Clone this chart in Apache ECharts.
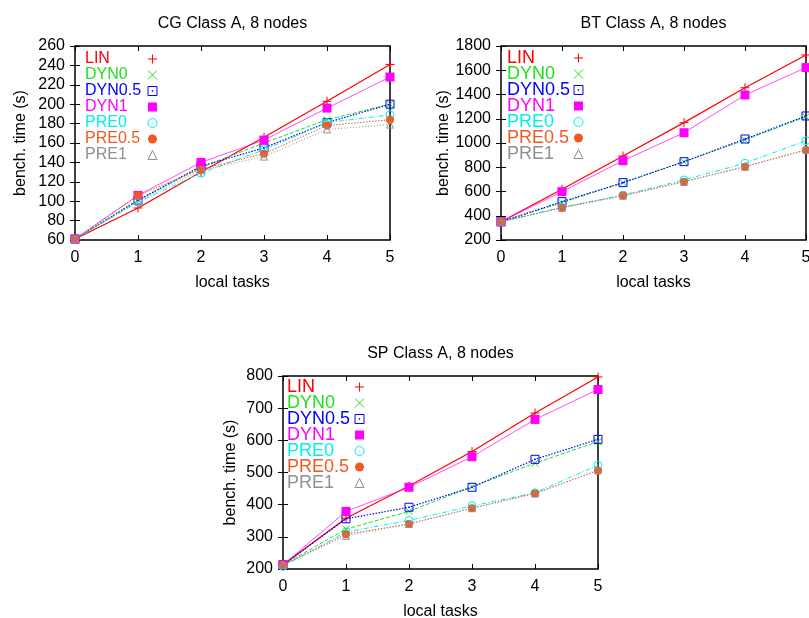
<!DOCTYPE html>
<html>
<head>
<meta charset="utf-8">
<script src="https://cdn.jsdelivr.net/npm/echarts@6/dist/echarts.min.js"></script>
<style>
html,body{margin:0;padding:0;background:#fff;}
#c{width:809px;height:618px;}
</style>
</head>
<body>
<div id="c"></div>
<script>
// ---------- data ----------
const localTasks = [0, 1, 2, 3, 4, 5];
const seriesNames = ['LIN', 'DYN0', 'DYN0.5', 'DYN1', 'PRE0', 'PRE0.5', 'PRE1'];

const cgTitle = 'CG Class A, 8 nodes';
const cgLIN   = [61, 93, 130, 166, 203, 241];
const cgDYN0  = [61, 101, 135, 160, 184, 200];
const cgDYN05 = [61, 101, 136, 155, 181, 200];
const cgDYN1  = [61, 106, 140, 163, 196, 228];
const cgPRE0  = [61, 99, 129, 153, 181, 189];
const cgPRE05 = [61, 106, 133, 149, 178, 184];
const cgPRE1  = [61, 100, 132, 146, 174, 179];

const btTitle = 'BT Class A, 8 nodes';
const btLIN   = [350, 618, 893, 1168, 1456, 1726];
const btDYN0  = [350, 508, 673, 846, 1025, 1217];
const btDYN05 = [350, 516, 673, 846, 1033, 1223];
const btDYN1  = [350, 599, 854, 1085, 1396, 1622];
const btPRE0  = [350, 470, 571, 695, 833, 1019];
const btPRE05 = [350, 467, 566, 681, 805, 942];
const btPRE1  = [350, 465, 565, 680, 805, 945];

const spTitle = 'SP Class A, 8 nodes';
const spLIN   = [213, 358, 458, 565, 685, 797];
const spDYN0  = [213, 324, 379, 456, 529, 596];
const spDYN05 = [213, 356, 392, 454, 541, 603];
const spDYN1  = [213, 379, 454, 549, 665, 758];
const spPRE0  = [208, 315, 351, 396, 437, 523];
const spPRE05 = [213, 308, 340, 389, 435, 506];
const spPRE1  = [213, 303, 340, 389, 435, 507];

const xAxisName = 'local tasks';
const yAxisName = 'bench. time (s)';
const cgYRange = [60, 260, 20];
const btYRange = [200, 1800, 200];
const spYRange = [200, 800, 100];

// ---------- styles ----------
const FONT = '"Liberation Sans", Arial, sans-serif';
const styles = {
  'LIN':    {color: '#ff0000', symbol: 'path://M0,5L10,5M5,0L5,10', size: 9, fill: 'none', line: 'solid', lw: 1.2},
  'DYN0':   {color: '#1ee01e', symbol: 'path://M0,0L10,10M10,0L0,10', size: 7, fill: 'none', line: [4, 2], lw: 1},
  'DYN0.5': {color: '#0000ff', symbol: 'path://M0,0L10,0L10,10L0,10ZM4.6,4.6L5.4,4.6L5.4,5.4L4.6,5.4Z', size: 8, fill: 'none', line: [1.5, 1.5], lw: 1.2},
  'DYN1':   {color: '#ff00ff', symbol: 'rect', size: 9, fill: '#ff00ff', line: 'solid', lw: 0.7},
  'PRE0':   {color: '#00f0f0', symbol: 'path://M0,5A5,5,0,1,1,10,5A5,5,0,1,1,0,5ZM4.6,5L5.4,5', size: 8, fill: 'none', line: [5, 2, 1, 2], lw: 1},
  'PRE0.5': {color: '#f05a20', symbol: 'circle', size: 8, fill: '#f05a20', line: [1.5, 1.5], lw: 1},
  'PRE1':   {color: '#909090', symbol: 'triangle', size: 7, fill: 'none', line: [1, 2], lw: 1}
};

const charts = [
  {title: cgTitle, range: cgYRange, data: [cgLIN, cgDYN0, cgDYN05, cgDYN1, cgPRE0, cgPRE05, cgPRE1],
   grid: {left: 75, top: 46, width: 315, height: 194}, legend: {left: 85, top: 51, w: 58, fs: 16, gap: 0}, nameGap: 46},
  {title: btTitle, range: btYRange, data: [btLIN, btDYN0, btDYN05, btDYN1, btPRE0, btPRE05, btPRE1],
   grid: {left: 501, top: 46, width: 305, height: 194}, legend: {left: 507, top: 49, w: 62, fs: 18, gap: -2}, nameGap: 45},
  {title: spTitle, range: spYRange, data: [spLIN, spDYN0, spDYN05, spDYN1, spPRE0, spPRE05, spPRE1],
   grid: {left: 283, top: 376, width: 315, height: 193}, legend: {left: 287, top: 378, w: 63, fs: 18, gap: -2}, nameGap: 44}
];

const grid = [], xAxis = [], yAxis = [], series = [], legend = [];
const tickStyle = {show: true, inside: true, length: 5, lineStyle: {color: '#000', width: 1}};
charts.forEach((ch, k) => {
  grid.push(Object.assign({show: true, borderColor: '#000', borderWidth: 1.5, backgroundColor: 'transparent',
    containLabel: false, outerBoundsMode: 'none'}, ch.grid));
  const xBase = {type: 'value', gridIndex: k, min: 0, max: 5, interval: 1, splitLine: {show: false}, axisLine: {show: false}, axisTick: tickStyle};
  xAxis.push(Object.assign({}, xBase, {position: 'bottom', name: xAxisName, nameLocation: 'middle', nameGap: 35,
    nameTextStyle: {fontSize: 16, color: '#000', fontFamily: FONT},
    axisLabel: {fontSize: 16, color: '#000', fontFamily: FONT, margin: 10}}));
  xAxis.push(Object.assign({}, xBase, {position: 'top', name: ch.title, nameLocation: 'middle', nameGap: 14,
    nameTextStyle: {fontSize: 16, color: '#000', fontFamily: FONT}, axisLabel: {show: false}}));
  const yBase = {type: 'value', gridIndex: k, min: ch.range[0], max: ch.range[1], interval: ch.range[2], splitLine: {show: false}, axisLine: {show: false}, axisTick: tickStyle};
  yAxis.push(Object.assign({}, yBase, {position: 'left', name: yAxisName, nameLocation: 'middle', nameRotate: 90, nameGap: ch.nameGap,
    nameTextStyle: {fontSize: 16, color: '#000', fontFamily: FONT},
    axisLabel: {fontSize: 16, color: '#000', fontFamily: FONT, margin: 10, formatter: v => String(v)}}));
  yAxis.push(Object.assign({}, yBase, {position: 'right', axisLabel: {show: false}}));

  seriesNames.forEach((name, i) => {
    const s = styles[name];
    series.push({
      type: 'line', name: name, xAxisIndex: k * 2, yAxisIndex: k * 2,
      data: localTasks.map((x, j) => [x, ch.data[i][j]]),
      symbol: s.symbol, symbolSize: s.size, showAllSymbol: true,
      itemStyle: {color: s.fill, borderColor: s.color, borderWidth: s.fill === 'none' ? 1 : 0},
      lineStyle: {color: s.color, width: s.lw, type: s.line},
      color: s.color, z: 2 + i, silent: true, animation: false,
      emphasis: {disabled: true}
    });
  });

  const fs = ch.legend.fs;
  legend.push({
    orient: 'vertical', left: ch.legend.left, top: ch.legend.top, align: 'right', padding: 0, itemGap: ch.legend.gap,
    itemWidth: 9, itemHeight: 9, selectedMode: false,
    textStyle: {fontSize: fs, fontFamily: FONT, lineHeight: 16,
      rich: {t: {width: ch.legend.w, align: 'left', fontSize: fs, lineHeight: 16, fontFamily: FONT}}},
    formatter: n => '{t|' + n + '}',
    data: seriesNames.map(name => {
      const s = styles[name];
      return {name: name, icon: s.symbol, textStyle: {color: s.color},
        itemStyle: {color: s.fill, borderColor: s.color, borderWidth: s.fill === 'none' ? 1 : 0}};
    })
  });
});

const chart = echarts.init(document.getElementById('c'), null, {renderer: 'canvas'});
chart.setOption({
  animation: false,
  backgroundColor: '#fff',
  textStyle: {fontFamily: FONT},
  grid, xAxis, yAxis, legend, series
});
</script>
</body>
</html>
